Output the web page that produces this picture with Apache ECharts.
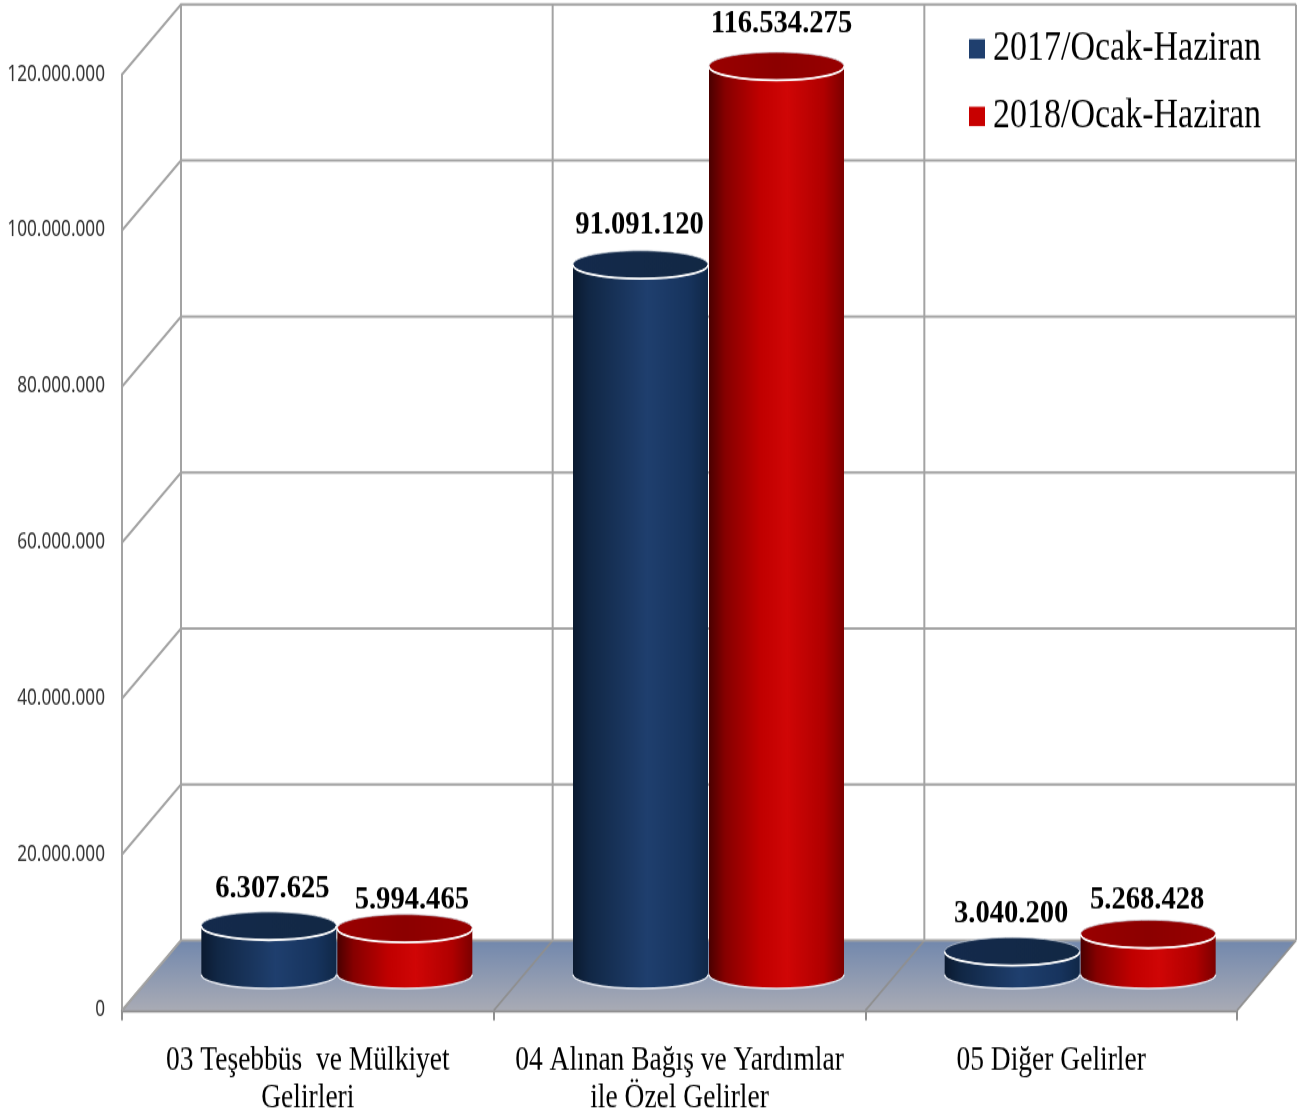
<!DOCTYPE html>
<html><head><meta charset="utf-8">
<style>html,body{margin:0;padding:0;background:#fff;height:1112px;width:1304px;overflow:hidden}
#c{width:1304px;height:890px;transform:translateY(1px) scaleY(1.25);transform-origin:0 0;filter:blur(.3px)}</style>
<script src="https://cdn.jsdelivr.net/npm/echarts@6/dist/echarts.min.js"></script>
</head><body><div id="c"></div>
<script>
const categories = ['03 Teşebbüs  ve Mülkiyet\nGelirleri', '04 Alınan Bağış ve Yardımlar\nile Özel Gelirler', '05 Diğer Gelirler'];
const seriesNames = ['2017/Ocak-Haziran', '2018/Ocak-Haziran'];
const values2017 = [6307625, 91091120, 3040200];
const values2018 = [5994465, 116534275, 5268428];
const yTicks = [0, 20000000, 40000000, 60000000, 80000000, 100000000, 120000000];

const nudge2017 = [[3.5, -29.8], [-1, -31.4], [-1, -29.8]];
const nudge2018 = [[7, -22.8], [5, -33.8], [-1, -27.6]];

const DX = 59, DY = 56, RY = 11.2, BAR = 0.1816, GRID = '#a3a3a3';
const dots = v => String(v).replace(/\B(?=(\d{3})+$)/g, '.');
const chart = echarts.init(document.getElementById('c'));
const serif = 'Liberation Serif';

const grad = stops => new echarts.graphic.LinearGradient(0, 0, 1, 0, stops.map(s => ({offset: s[0], color: s[1]})));
const skins = [
  {body: [[0, '#0b1a30'], [0.12, '#112745'], [0.55, '#1f3f6e'], [0.85, '#17345e'], [1, '#102848']],
   top: [[0, '#142a4c'], [1, '#122844']]},
  {body: [[0, '#4a0000'], [0.12, '#860000'], [0.38, '#c00000'], [0.58, '#d00606'], [0.85, '#b00000'], [1, '#7c0000']],
   top: [[0, '#9a0000'], [0.5, '#8c0000'], [1, '#980000']]}
];

function cylinderSeries(name, data, idx, nudge) {
  return {
    type: 'custom', name, coordinateSystem: 'cartesian2d', clip: false, z: 5,
    itemStyle: {color: idx === 0 ? '#1f3f6e' : '#c80000'},
    encode: {x: 0, y: 1},
    data: data.map((v, i) => [i, v]),
    renderItem(params, api) {
      const band = api.size([1, 0])[0];
      const rx = band * BAR;
      const i = api.value(0), v = api.value(1);
      const base = api.coord([i, 0]), head = api.coord([i, v]);
      const cx = base[0] + DX / 2 + (idx === 0 ? -rx - 1 : rx);
      const by = base[1] - DY / 2 - 0.8, ty = head[1] - DY / 2 - 0.2;
      const l = cx - rx, r = cx + rx;
      const front = `M${l} ${ty}A${rx} ${RY} 0 0 0 ${r} ${ty}`;
      return {type: 'group', children: [
        {type: 'path', shape: {pathData: `${front}L${r} ${by}A${rx} ${RY} 0 0 1 ${l} ${by}Z`},
         style: {fill: grad(skins[idx].body)}},
        {type: 'path', shape: {pathData: `M${l} ${by}A${rx} ${RY} 0 0 0 ${r} ${by}`},
         style: {fill: 'none', stroke: '#e4e7ee', lineWidth: 1.5}},
        {type: 'ellipse', shape: {cx, cy: ty, rx, ry: RY},
         style: {fill: grad(skins[idx].top), stroke: '#cfd6e0', lineWidth: 0.7}},
        {type: 'path', shape: {pathData: front},
         style: {fill: 'none', stroke: '#ffffff', lineWidth: 1.8}},
        {type: 'text', x: cx + nudge[i][0], y: ty + nudge[i][1], scaleY: 0.9,
         style: {text: dots(v), fontFamily: serif, fontWeight: 'bold', fontSize: 28.6, fill: '#000',
                 align: 'center', verticalAlign: 'middle'}}
      ]};
    }
  };
}

const floorSeries = {
  type: 'custom', silent: true, clip: false, z: 1, data: [[0, 0]], encode: {x: 0, y: 1},
  renderItem(params, api) {
    const band = api.size([1, 0])[0];
    const o = api.coord([0, 0]), t = api.coord([0, yTicks[yTicks.length - 1]]);
    const x0 = o[0] - band / 2, y0 = o[1], n = categories.length, w = band * n;
    const kids = [{type: 'polygon',
      shape: {points: [[x0, y0], [x0 + w, y0], [x0 + w + DX, y0 - DY], [x0 + DX, y0 - DY]]},
      style: {fill: new echarts.graphic.LinearGradient(0, 0, 0, 1, [
        {offset: 0, color: '#7288ad'}, {offset: 1, color: '#a9abb5'}])}}];
    for (let k = 0; k <= n; k++) {
      const x = x0 + k * band;
      kids.push({type: 'line', shape: {x1: x + DX, y1: y0 - DY, x2: x + DX, y2: t[1] - DY},
        style: {stroke: GRID, lineWidth: 2}});
      kids.push({type: 'line', shape: {x1: x, y1: y0, x2: x + DX, y2: y0 - DY},
        style: {stroke: '#8f8f8f', lineWidth: 1.6}});
    }
    return {type: 'group', children: kids};
  }
};

const wallSeries = {
  type: 'custom', silent: true, clip: false, z: 2, encode: {x: 0, y: 1},
  data: yTicks.map(t => [0, t]),
  renderItem(params, api) {
    const band = api.size([1, 0])[0];
    const p = api.coord([0, api.value(1)]);
    const x0 = p[0] - band / 2, w = band * categories.length;
    return {type: 'polyline',
      shape: {points: [[x0, p[1]], [x0 + DX, p[1] - DY], [x0 + DX + w, p[1] - DY]]},
      style: {fill: 'none', stroke: GRID, lineWidth: 2}};
  }
};

chart.setOption({
  animation: false,
  backgroundColor: '#fff',
  grid: {left: 122, width: 1115, top: 58.8, height: 748.8, outerBoundsMode: 'none'},
  legend: {
    orient: 'vertical', left: 964, top: 16.3, itemWidth: 16, itemHeight: 15.5, itemGap: 20,
    icon: 'rect', data: seriesNames, selectedMode: false,
    textStyle: {fontFamily: serif, fontSize: 34, color: '#000', padding: [0, 0, 0, 3]}
  },
  xAxis: {
    type: 'category', data: categories,
    axisLine: {lineStyle: {color: '#8f8f8f', width: 2.4}},
    axisTick: {show: true, length: 8, alignWithLabel: false, lineStyle: {color: '#8f8f8f', width: 2}},
    axisLabel: {interval: 0, margin: 25, fontFamily: serif, fontSize: 27.5, lineHeight: 30.4, color: '#000'}
  },
  yAxis: {
    type: 'value', min: 0, max: 120000000, interval: 20000000,
    axisLine: {show: true, lineStyle: {color: GRID, width: 2}},
    axisTick: {show: false}, splitLine: {show: false},
    axisLabel: {margin: 17, padding: [4, 0, 0, 0], fontFamily: 'Noto Sans', fontSize: 17.2, color: '#333', formatter: dots}
  },
  series: [floorSeries, wallSeries,
    cylinderSeries(seriesNames[0], values2017, 0, nudge2017),
    cylinderSeries(seriesNames[1], values2018, 1, nudge2018)]
});
</script></body></html>
